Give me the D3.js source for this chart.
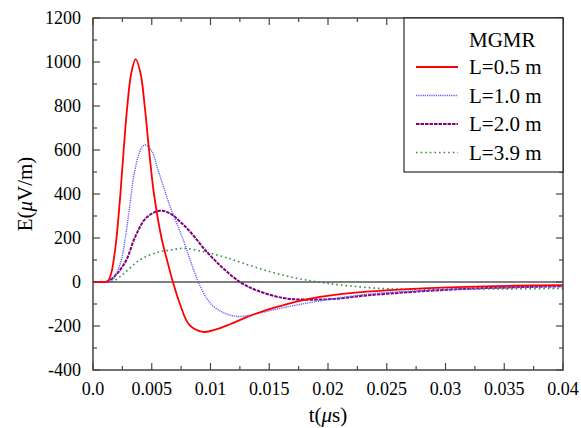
<!DOCTYPE html>
<html><head><meta charset="utf-8">
<script src="https://cdn.jsdelivr.net/npm/d3@7"></script>
<style>body{margin:0;background:#fff}</style>
</head><body>
<svg id="c" width="581" height="428"></svg>
<script>
const xTicks = [0, 0.005, 0.01, 0.015, 0.02, 0.025, 0.03, 0.035, 0.04];
const xTickLabels = ["0.0", "0.005", "0.01", "0.015", "0.02", "0.025", "0.03", "0.035", "0.04"];
const yTicks = [-400, -200, 0, 200, 400, 600, 800, 1000, 1200];
const seriesNames = ["L=0.5 m", "L=1.0 m", "L=2.0 m", "L=3.9 m"];

const redT = [0, 0.0009, 0.00128, 0.00155, 0.00176, 0.002, 0.00233, 0.00261, 0.00292, 0.00326, 0.00363, 0.00404, 0.0044, 0.00477, 0.00519, 0.00583, 0.0063, 0.0068, 0.0074, 0.0082, 0.00939, 0.0105, 0.01166, 0.01308, 0.0145, 0.0159, 0.0176, 0.0193, 0.0233, 0.0272, 0.0318, 0.0358, 0.04];
const redE = [0, 0, 5, 40, 100, 200, 400, 600, 800, 950, 1013, 950, 800, 600, 400, 200, 100, 0, -100, -195, -227, -215, -192, -160, -132, -110, -86, -68, -44, -31, -22, -17, -14];

const blueT = [0, 0.001, 0.00156, 0.002, 0.00241, 0.00275, 0.00326, 0.00346, 0.0039, 0.0042, 0.00448, 0.005, 0.00553, 0.00596, 0.00655, 0.00769, 0.0083, 0.00896, 0.00967, 0.01024, 0.0112, 0.01237, 0.01308, 0.0145, 0.0159, 0.0176, 0.0193, 0.0233, 0.0272, 0.0318, 0.0358, 0.04];
const blueE = [0, 0, 5, 40, 100, 200, 400, 480, 580, 615, 623, 595, 510, 440, 345, 190, 95, 0, -74, -110, -142, -157, -153, -137, -120, -102, -86, -56, -41, -31, -24, -20];

const purpleT = [0, 0.0009, 0.00128, 0.002, 0.00284, 0.00355, 0.0045, 0.00567, 0.00655, 0.0074, 0.00826, 0.00967, 0.01109, 0.01251, 0.01393, 0.0162, 0.0179, 0.0205, 0.0233, 0.0272, 0.0318, 0.0358, 0.04];
const purpleE = [0, 0, 3, 35, 100, 200, 290, 324, 312, 275, 229, 138, 62, 0, -38, -73, -80, -77, -61, -45, -31, -24, -19];

const greenT = [0, 0.0012, 0.0017, 0.0027, 0.00397, 0.0055, 0.00655, 0.00769, 0.00939, 0.01109, 0.01279, 0.01506, 0.01733, 0.0192, 0.021, 0.0247, 0.028, 0.032, 0.036, 0.04];
const greenE = [0, 0, 3, 42, 100, 135, 145, 153, 138, 115, 85, 47, 17, 0, -13, -30, -33, -32, -31, -29];

const svg = d3.select("#c");
const L = 93, R = 563, T = 18, B = 370;
const x = d3.scaleLinear().domain([0, 0.04]).range([L, R]);
const y = d3.scaleLinear().domain([-400, 1200]).range([B, T]);
const font = "Liberation Serif";

const frame = svg.append("g").attr("stroke", "#444").attr("stroke-width", 1.2);
d3.range(0, 0.0401, 0.0025).forEach((v, i) => {
  const len = (i % 2 === 0) ? 7 : 4;
  frame.append("line").attr("x1", x(v)).attr("x2", x(v)).attr("y1", B).attr("y2", B - len);
  frame.append("line").attr("x1", x(v)).attr("x2", x(v)).attr("y1", T).attr("y2", T + len);
});
d3.range(-400, 1201, 100).forEach((v, i) => {
  const len = (i % 2 === 0) ? 7 : 4;
  frame.append("line").attr("y1", y(v)).attr("y2", y(v)).attr("x1", L).attr("x2", L + len);
  frame.append("line").attr("y1", y(v)).attr("y2", y(v)).attr("x1", R).attr("x2", R - len);
});

svg.append("line").attr("x1", L).attr("x2", R).attr("y1", y(0)).attr("y2", y(0))
  .attr("stroke", "#555").attr("stroke-width", 1.3);

const line = d3.line().x(d => x(d[0])).y(d => y(d[1])).curve(d3.curveCatmullRom.alpha(0.5));
const series = [
  {t: greenT, e: greenE, color: "#3c8c3c", w: 1.6, dash: "1.6,3"},
  {t: purpleT, e: purpleE, color: "#800080", w: 2, dash: "3.5,1"},
  {t: blueT, e: blueE, color: "#5a5aff", w: 1.4, dash: "1.2,1"},
  {t: redT, e: redE, color: "#ff0000", w: 1.8, dash: null}
];
series.forEach(s => {
  const p = svg.append("path").datum(s.t.map((t, i) => [t, s.e[i]]))
    .attr("d", line).attr("fill", "none").attr("stroke", s.color).attr("stroke-width", s.w);
  if (s.dash) p.attr("stroke-dasharray", s.dash);
});

svg.append("rect").attr("x", L).attr("y", T).attr("width", R - L).attr("height", B - T)
  .attr("fill", "none").attr("stroke", "#444").attr("stroke-width", 1.5);

xTicks.forEach((v, i) => {
  svg.append("text").attr("x", x(v)).attr("y", 395).attr("text-anchor", "middle")
    .attr("font-family", font).attr("font-size", 18).text(xTickLabels[i]);
});
yTicks.forEach(v => {
  svg.append("text").attr("x", 81).attr("y", y(v) + 6).attr("text-anchor", "end")
    .attr("font-family", font).attr("font-size", 18).text(v);
});

const xt = svg.append("text").attr("x", (L + R) / 2).attr("y", 422).attr("text-anchor", "middle")
  .attr("font-family", font).attr("font-size", 21);
xt.append("tspan").text("t(");
xt.append("tspan").attr("font-style", "italic").text("μ");
xt.append("tspan").text("s)");

const yt = svg.append("text").attr("transform", `translate(32,${(T + B) / 2}) rotate(-90)`)
  .attr("text-anchor", "middle").attr("font-family", font).attr("font-size", 21);
yt.append("tspan").text("E(");
yt.append("tspan").attr("font-style", "italic").text("μ");
yt.append("tspan").text("V/m)");

const lg = svg.append("g");
lg.append("rect").attr("x", 404).attr("y", T).attr("width", R - 404).attr("height", 154)
  .attr("fill", "#fff").attr("stroke", "#000").attr("stroke-width", 1);
lg.append("text").attr("x", 469).attr("y", 47).attr("font-family", font).attr("font-size", 21).text("MGMR");
const legOrder = [series[3], series[2], series[1], series[0]];
legOrder.forEach((s, i) => {
  const cy = 67 + i * 28.5;
  const l = lg.append("line").attr("x1", 416).attr("x2", 458).attr("y1", cy).attr("y2", cy)
    .attr("stroke", s.color).attr("stroke-width", s.w);
  if (s.dash) l.attr("stroke-dasharray", s.dash);
  lg.append("text").attr("x", 469).attr("y", cy + 7).attr("font-family", font).attr("font-size", 21).text(seriesNames[i]);
});
</script>
</body></html>
